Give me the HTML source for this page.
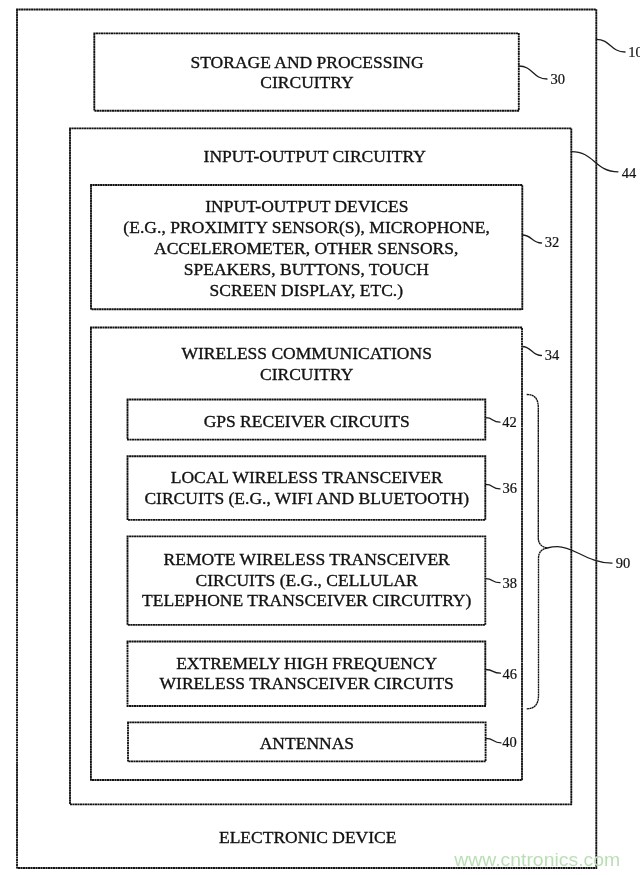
<!DOCTYPE html>
<html><head><meta charset="utf-8"><title>Electronic device block diagram</title>
<style>html,body{margin:0;padding:0;background:#fff;}body{width:640px;height:875px;overflow:hidden;position:relative;}svg{position:absolute;left:0;top:0;display:block;will-change:transform;}text{font-family:"Liberation Serif",serif;fill:#111111;stroke:#111111;stroke-width:0.35px;}.t{font-size:17.5px;}.l{font-size:14.5px;stroke-width:0.2px;}.wm{font-family:"Liberation Sans",sans-serif;font-size:18.6px;fill:#badfb4;stroke:none;}</style></head><body>
<svg width="640" height="875" viewBox="0 0 640 875">
<rect x="0" y="0" width="640" height="875" fill="#ffffff"/>
<g fill="none" stroke="#111111" stroke-width="1.85" stroke-dasharray="0.3 2.2" stroke-linecap="square">
<rect x="17.00" y="9.50" width="579.30" height="858.50"/>
<rect x="94.30" y="33.30" width="424.50" height="77.40"/>
<rect x="70.00" y="128.30" width="501.30" height="676.10"/>
<rect x="91.00" y="185.00" width="431.30" height="124.20"/>
<rect x="90.90" y="327.50" width="431.10" height="452.50"/>
<rect x="127.50" y="399.50" width="357.80" height="40.10"/>
<rect x="127.50" y="456.20" width="357.80" height="63.60"/>
<rect x="127.50" y="536.40" width="357.80" height="88.40"/>
<rect x="127.50" y="641.50" width="357.80" height="64.50"/>
<rect x="128.00" y="722.40" width="357.60" height="39.00"/>
</g>
<g fill="none" stroke="#1c1c1c" stroke-width="1.3" stroke-linecap="round">
<path d="M596.30,39.40 C610.65,39.40 610.65,52.00 625.00,52.00"/>
<path d="M518.80,66.00 C532.90,66.00 532.90,79.00 547.00,79.00"/>
<path d="M571.30,151.60 C594.65,151.60 594.65,171.80 618.00,171.80"/>
<path d="M522.30,235.00 C531.90,235.00 531.90,243.00 541.50,243.00"/>
<path d="M522.00,346.50 C531.75,346.50 531.75,355.50 541.50,355.50"/>
<path d="M485.50,417.60 C494.20,417.60 491.30,422.20 500.00,422.20"/>
<path d="M485.50,484.40 C494.20,484.40 491.30,488.90 500.00,488.90"/>
<path d="M485.50,578.70 C494.20,578.70 491.30,582.70 500.00,582.70"/>
<path d="M485.50,669.50 C494.50,669.50 491.50,673.20 500.50,673.20"/>
<path d="M485.60,738.30 C494.84,738.30 491.76,742.90 501.00,742.90"/>
<path d="M547.2,548 C551,547 554,546.6 557.5,546.6 C574,546.6 588,563.2 612,563.2"/>
</g>
<g fill="none" stroke="#111111" stroke-width="1.35" stroke-dasharray="2.1 0.4">
<path d="M526.7,394.5 C535,394.5 538.3,399 538.3,408 L538.3,538 C538.3,544 542,547 547.2,548"/>
<path d="M526.7,708.8 C535,708.8 538.5,704 538.5,695 L538.5,558 C538.5,552 542,549 547.2,548"/>
</g>
<text class="t" x="307.00" y="67.90" text-anchor="middle">STORAGE AND PROCESSING</text>
<text class="t" x="307.00" y="88.20" text-anchor="middle">CIRCUITRY</text>
<text class="t" x="314.70" y="162.20" text-anchor="middle">INPUT-OUTPUT CIRCUITRY</text>
<text class="t" x="306.90" y="212.30" text-anchor="middle" letter-spacing="0.03">INPUT-OUTPUT DEVICES</text>
<text class="t" x="306.60" y="232.80" text-anchor="middle" letter-spacing="0.04">(E.G., PROXIMITY SENSOR(S), MICROPHONE,</text>
<text class="t" x="306.20" y="254.40" text-anchor="middle">ACCELEROMETER, OTHER SENSORS,</text>
<text class="t" x="306.30" y="275.40" text-anchor="middle">SPEAKERS, BUTTONS, TOUCH</text>
<text class="t" x="306.30" y="296.00" text-anchor="middle">SCREEN DISPLAY, ETC.)</text>
<text class="t" x="306.70" y="359.00" text-anchor="middle">WIRELESS COMMUNICATIONS</text>
<text class="t" x="306.70" y="380.30" text-anchor="middle">CIRCUITRY</text>
<text class="t" x="306.70" y="427.00" text-anchor="middle">GPS RECEIVER CIRCUITS</text>
<text class="t" x="306.70" y="483.00" text-anchor="middle">LOCAL WIRELESS TRANSCEIVER</text>
<text class="t" x="306.70" y="503.70" text-anchor="middle">CIRCUITS (E.G., WIFI AND BLUETOOTH)</text>
<text class="t" x="306.70" y="564.70" text-anchor="middle">REMOTE WIRELESS TRANSCEIVER</text>
<text class="t" x="306.70" y="586.00" text-anchor="middle">CIRCUITS (E.G., CELLULAR</text>
<text class="t" x="306.70" y="606.30" text-anchor="middle">TELEPHONE TRANSCEIVER CIRCUITRY)</text>
<text class="t" x="306.70" y="668.70" text-anchor="middle">EXTREMELY HIGH FREQUENCY</text>
<text class="t" x="306.70" y="689.00" text-anchor="middle">WIRELESS TRANSCEIVER CIRCUITS</text>
<text class="t" x="306.90" y="749.00" text-anchor="middle">ANTENNAS</text>
<text class="t" x="307.70" y="842.70" text-anchor="middle">ELECTRONIC DEVICE</text>
<text class="l" x="628.30" y="57.10">10</text>
<text class="l" x="550.50" y="84.00">30</text>
<text class="l" x="621.80" y="178.20">44</text>
<text class="l" x="544.70" y="247.40">32</text>
<text class="l" x="544.70" y="359.90">34</text>
<text class="l" x="502.20" y="426.70">42</text>
<text class="l" x="502.40" y="492.80">36</text>
<text class="l" x="502.50" y="588.00">38</text>
<text class="l" x="502.50" y="678.70">46</text>
<text class="l" x="502.30" y="746.60">40</text>
<text class="l" x="615.70" y="567.70">90</text>
<text class="wm" x="454.2" y="865.6" textLength="166" lengthAdjust="spacingAndGlyphs">www.cntronics.com</text>
</svg></body></html>
